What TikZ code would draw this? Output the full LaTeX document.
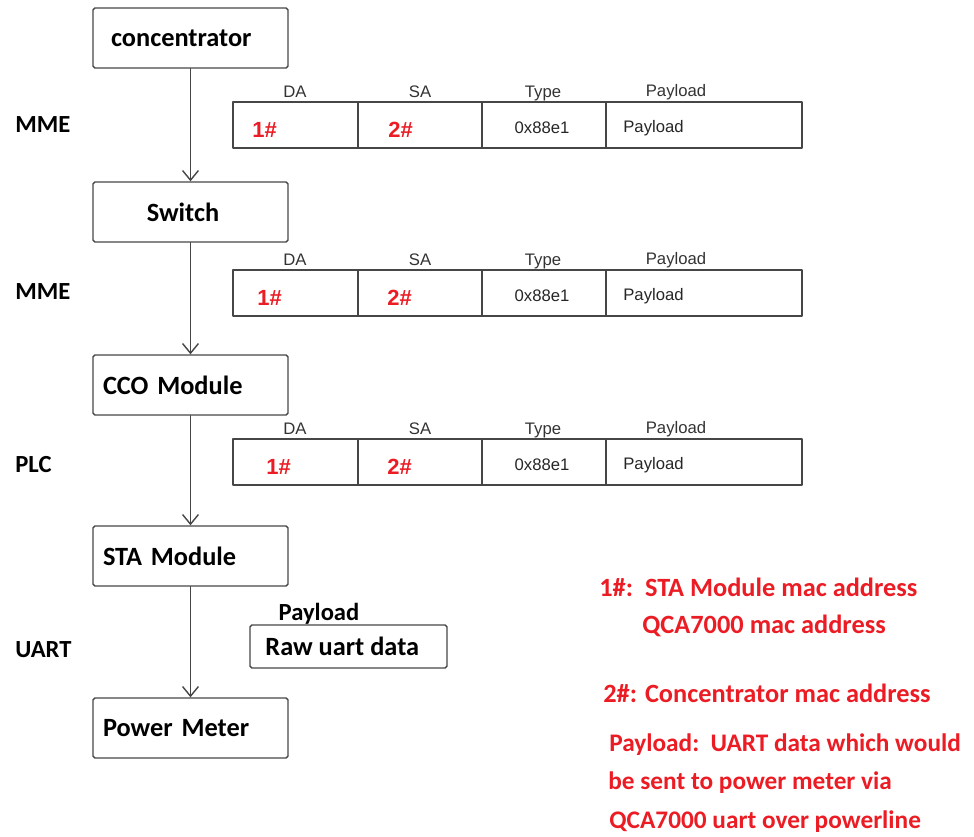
\documentclass[tikz,border=0pt]{standalone}
\usepackage{fontspec}
\setmainfont{Carlito}
\newfontfamily\arialfont{Liberation Sans}
\usetikzlibrary{positioning, arrows.meta}

\definecolor{notered}{RGB}{235,28,36}
\definecolor{linegray}{RGB}{70,70,70}

\tikzset{
    block/.style={draw=linegray, line width=0.8pt, rounded corners=1pt, minimum width=3.9cm,
        minimum height=1.2cm, text width=3.5cm, align=left, inner sep=0pt,
        font=\bfseries\fontsize{15}{18}\selectfont},
    cell/.style={draw=linegray, line width=0.8pt, minimum height=0.92cm, inner sep=0pt},
    head/.style={font=\arialfont\fontsize{9.5}{11}\selectfont, text=black!80,
        inner sep=0pt, text height=1.6ex, text depth=0.4ex},
    field/.style={font=\arialfont\fontsize{9.5}{11}\selectfont, text=black!85, inner sep=0pt},
    tag/.style={font=\arialfont\bfseries\fontsize{12.5}{14}\selectfont, text=notered,
        anchor=west, inner sep=0pt},
    layer/.style={font=\bfseries\fontsize{14}{17}\selectfont, anchor=west, inner sep=0pt},
    note/.style={font=\bfseries\fontsize{15}{18}\selectfont, text=notered, anchor=west,
        inner sep=0pt},
}

\begin{document}
\begin{tikzpicture}[x=0.02cm, y=-0.02cm, line cap=round, line join=round,
    >={Straight Barb[length=5.5pt, width=9pt]}]

    \useasboundingbox (0,0) rectangle (974,836);

    % Devices
    \node[block] (conc) at (190.5,38) {\hspace*{0.16cm}concentrator};
    \node[block, align=center] (sw) at (190.5,212) {\hspace*{-0.3cm}Switch};
    \node[block] (cco) at (190.5,385) {CCO Module};
    \node[block] (sta) at (190.5,556) {STA Module};
    \node[block] (meter) at (190.5,728) {Power Meter};

    % Links
    \draw[->, linegray, line width=0.8pt] (conc) -- (sw);
    \draw[->, linegray, line width=0.8pt] (sw) -- (cco);
    \draw[->, linegray, line width=0.8pt] (cco) -- (sta);
    \draw[->, linegray, line width=0.8pt] (sta) -- (meter);

    % Layer names
    \node[layer] (mme1) at (15,125) {MME};
    \node[layer] (mme2) at (15,292) {MME};
    \node[layer] (plc) at (15,465) {PLC};
    \node[layer] (uart) at (15,650) {UART};

    % Frames
    \foreach \r/\y/\a/\b in {1/125/252/388, 2/293/257/387, 3/462/266/387} {
        \node[cell, minimum width=2.5cm] (da\r) at (295.5,\y) {};
        \node[cell, minimum width=2.48cm] (sa\r) at (420,\y) {};
        \node[cell, minimum width=2.48cm] (ty\r) at (544,\y) {};
        \node[cell, minimum width=3.92cm] (pl\r) at (704,\y) {};
        \node[head] (hda\r) at (295,\y-33) {DA};
        \node[head] (hsa\r) at (420,\y-33) {SA};
        \node[head] (hty\r) at (543,\y-33) {Type};
        \node[head] (hpl\r) at (676,\y-34) {Payload};
        \node[tag] (one\r) at (\a,\y+5) {1\#};
        \node[tag] (two\r) at (\b,\y+5) {2\#};
        \node[field] (eth\r) at (542,\y+3) {0x88e1};
        \node[field, anchor=west] (data\r) at (623,\y+3) {Payload};
    }

    % Uart payload
    \node[draw=linegray, line width=0.8pt, rounded corners=1pt, minimum width=3.94cm,
        minimum height=0.86cm, inner sep=0pt, font=\bfseries\fontsize{15}{18}\selectfont]
        (raw) at (348.5,646.5) {\hspace{-0.25cm}Raw uart data};
    \node[font=\bfseries\fontsize{14}{17}\selectfont] (rawhead) at (319,614) {Payload};

    % Notes
    \node[note] (n1) at (599,587) {1\#:\ \ STA Module mac address};
    \node[note] (n2) at (642,626) {QCA7000 mac address};
    \node[note] (n3) at (603,693) {2\#: Concentrator mac address};
    \node[note, font=\bfseries\fontsize{14.4}{17}\selectfont] (n4) at (609,745)
        {Payload:\ \ UART data which would};
    \node[note, font=\bfseries\fontsize{14.4}{17}\selectfont] (n5) at (608,783)
        {be sent to power meter via};
    \node[note, font=\bfseries\fontsize{14.4}{17}\selectfont] (n6) at (609,822)
        {QCA7000 uart over powerline};

\end{tikzpicture}
\end{document}
